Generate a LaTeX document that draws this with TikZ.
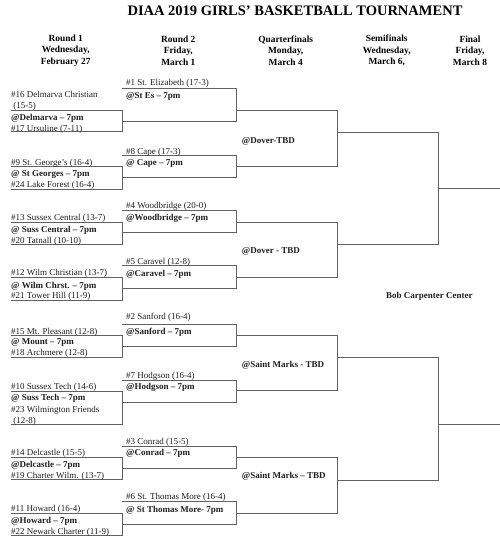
\documentclass[tikz,border=0pt]{standalone}
\usepackage{fontspec}
\setmainfont{Liberation Serif}
\begin{document}
\begin{tikzpicture}[x=1pt,y=-1pt,
  ln/.style={draw=black!62, line width=0.9pt},
  team/.style={anchor=base west, inner sep=0pt, text=black!88, font=\fontsize{9}{11}\selectfont},
  site/.style={team, font=\fontsize{9}{11}\selectfont\bfseries},
  hdr/.style={anchor=center, align=center, inner sep=0pt, font=\fontsize{9.4}{11.4}\selectfont\bfseries}]
\useasboundingbox (0,0) rectangle (500,546);

% title and headers
\node[inner sep=0pt, font=\fontsize{14.5}{16}\selectfont\bfseries] (title) at (295,11) {DIAA 2019 GIRLS’ BASKETBALL TOURNAMENT};
\node[hdr] (h1) at (65.7,50.7) {Round 1\\Wednesday,\\February 27};
\node[hdr] (h2) at (178.3,50.7) {Round 2\\Friday,\\March 1};
\node[hdr] (h3) at (285.7,50.7) {Quarterfinals\\Monday,\\March 4};
\node[hdr] (h4) at (386.7,50.7) {Semifinals\\Wednesday,\\March 6,};
\node[hdr] (h5) at (470,50.7) {Final\\Friday,\\March 8};

% round 1 brackets
\foreach \t/\b in {110.7/131.7, 166.7/189.3, 222.3/244.3, 277.7/300, 335/357.7, 391/424.3, 457.7/479.3, 513.3/535.7}
  \draw[ln] (11,\t) -- (122,\t) -- (122,\b) -- (11,\b);

% round 2 brackets: top / bottom / output
\foreach \t/\b/\o in {88/121/110, 155/177.3/166, 210.7/232.3/222.7, 265.7/288.5/277.3, 324/346.5/335, 380/402/390.7, 446.7/468.3/457.3, 501.7/524.3/513.3}
  \draw[ln] (122,\t) -- (236,\t) -- (236,\b) -- (122,\b);

% quarterfinal brackets
\foreach \t/\b in {110/166, 222.7/277.3, 335/390.7, 457.3/513.3}
  \draw[ln] (236,\t) -- (337,\t) -- (337,\b) -- (236,\b);

% semifinal brackets
\foreach \t/\b in {132.7/244.3, 357.7/480}
  \draw[ln] (337,\t) -- (438,\t) -- (438,\b) -- (337,\b);

% final lines
\draw[ln] (438,188.3) -- (500,188.3);
\draw[ln] (438,424.3) -- (500,424.3);

% round 1 texts
\node[team] (a1) at (11,97) {\#16 Delmarva Christian};
\node[team] (a2) at (11,108) {\ (15-5)};
\node[site] (a3) at (11,120) {@Delmarva – 7pm};
\node[team] (a4) at (11,131) {\#17 Ursuline (7-11)};

\node[team] (b1) at (11,165.3) {\#9 St. George’s (16-4)};
\node[site] (b2) at (11,176.7) {@ St Georges – 7pm};
\node[team] (b3) at (11,187.3) {\#24 Lake Forest (16-4)};

\node[team] (c1) at (11,220.3) {\#13 Sussex Central (13-7)};
\node[site] (c2) at (11,232.3) {@ Suss Central – 7pm};
\node[team] (c3) at (11,243) {\#20 Tatnall (10-10)};

\node[team] (d1) at (11,275.7) {\#12 Wilm Christian (13-7)};
\node[site] (d2) at (11,288) {@ Wilm Chrst. – 7pm};
\node[team] (d3) at (11,298.7) {\#21 Tower Hill (11-9)};

\node[team] (e1) at (11,334) {\#15 Mt. Pleasant (12-8)};
\node[site] (e2) at (11,344.7) {@ Mount – 7pm};
\node[team] (e3) at (11,355.7) {\#18 Archmere (12-8)};

\node[team] (f1) at (11,389.7) {\#10 Sussex Tech (14-6)};
\node[site] (f2) at (11,400.7) {@ Suss Tech – 7pm};
\node[team] (f3) at (11,412) {\#23 Wilmington Friends};
\node[team] (f4) at (11,423) {\ (12-8)};

\node[team] (g1) at (11,455.7) {\#14 Delcastle (15-5)};
\node[site] (g2) at (11,467.3) {@Delcastle – 7pm};
\node[team] (g3) at (11,478) {\#19 Charter Wilm. (13-7)};

\node[team] (k1) at (11,511.3) {\#11 Howard (16-4)};
\node[site] (k2) at (11,523) {@Howard – 7pm};
\node[team] (k3) at (11,534) {\#22 Newark Charter (11-9)};

% round 2 texts
\node[team] (r1a) at (126,85.3) {\#1 St. Elizabeth (17-3)};
\node[site] (r1b) at (126,98) {@St Es – 7pm};
\node[team] (r2a) at (126,154) {\#8 Cape (17-3)};
\node[site] (r2b) at (126,165.3) {@ Cape – 7pm};
\node[team] (r3a) at (126,208.7) {\#4 Woodbridge (20-0)};
\node[site] (r3b) at (126,220.3) {@Woodbridge – 7pm};
\node[team] (r4a) at (126,264) {\#5 Caravel (12-8)};
\node[site] (r4b) at (126,276.3) {@Caravel – 7pm};
\node[team] (r5a) at (126,319.7) {\#2 Sanford (16-4)};
\node[site] (r5b) at (126,334.7) {@Sanford – 7pm};
\node[team] (r6a) at (126,378) {\#7 Hodgson (16-4)};
\node[site] (r6b) at (126,389.7) {@Hodgson – 7pm};
\node[team] (r7a) at (126,444) {\#3 Conrad (15-5)};
\node[site] (r7b) at (126,455.7) {@Conrad – 7pm};
\node[team] (r8a) at (126,499.7) {\#6 St. Thomas More (16-4)};
\node[site] (r8b) at (126,512) {@ St Thomas More- 7pm};

% quarterfinal sites
\node[site] (q1) at (241.7,143) {@Dover-TBD};
\node[site] (q2) at (241.7,253.7) {@Dover - TBD};
\node[site] (q3) at (241.7,367.3) {@Saint Marks - TBD};
\node[site] (q4) at (241.7,478) {@Saint Marks – TBD};

% final site
\node[site, anchor=base] (fin) at (429.3,298.7) {Bob Carpenter Center};
\end{tikzpicture}
\end{document}
